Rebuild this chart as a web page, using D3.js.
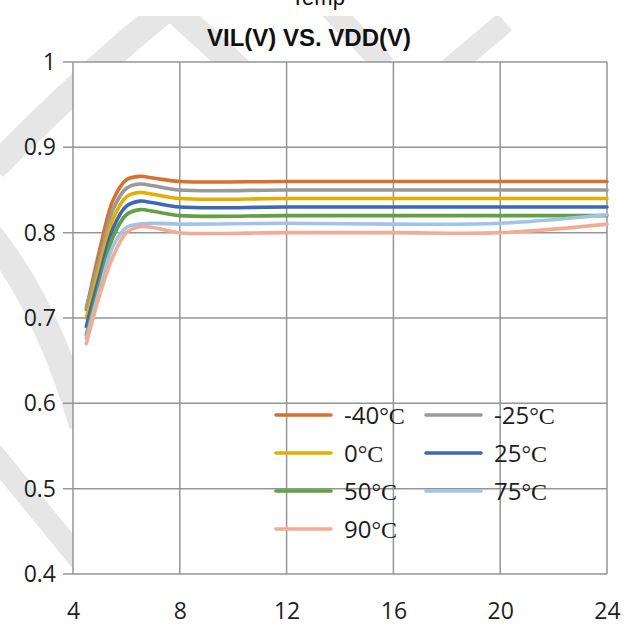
<!DOCTYPE html>
<html>
  <head>
    <meta charset="utf-8">
    <script src="https://d3js.org/d3.v7.min.js"></script>
    <style>
      body { margin: 0; background: white; }
      .tick-label { font-family: "Open Sans", sans-serif; font-size: 23px; fill: #1e1e1e; }
      .title { font-family: "Liberation Sans", Arial, sans-serif; font-weight: bold; font-size: 24px; fill: #111; }
      .legend-text { font-family: "Open Sans", sans-serif; font-size: 24px; fill: #1e1e1e; }
    </style>
  </head>
  <body>
    <div id="chart"></div>
<script>

// VDD (V) sample points
var vdd = [4.5, 5, 5.5, 6, 6.5, 7, 8, 12, 16, 20, 24];

// VIL (V) per temperature
var tempM40 = [0.71, 0.78, 0.838, 0.862, 0.866, 0.864, 0.86, 0.86, 0.86, 0.86, 0.86];
var tempM25 = [0.712, 0.77, 0.827, 0.852, 0.857, 0.855, 0.85, 0.85, 0.85, 0.85, 0.85];
var temp0   = [0.70, 0.76, 0.816, 0.842, 0.847, 0.845, 0.84, 0.84, 0.84, 0.84, 0.84];
var temp25  = [0.69, 0.75, 0.805, 0.831, 0.837, 0.835, 0.83, 0.83, 0.83, 0.83, 0.83];
var temp50  = [0.68, 0.74, 0.795, 0.821, 0.827, 0.825, 0.82, 0.82, 0.82, 0.82, 0.82];
var temp75  = [0.676, 0.733, 0.784, 0.806, 0.81, 0.811, 0.81, 0.811, 0.81, 0.811, 0.821];
var temp90  = [0.67, 0.727, 0.772, 0.80, 0.807, 0.806, 0.80, 0.80, 0.80, 0.80, 0.81];

var seriesNames = ["-40", "-25", "0", "25", "50", "75", "90"];
var seriesValues = [tempM40, tempM25, temp0, temp25, temp50, temp75, temp90];
var colors = ["#d8702f", "#999999", "#e6ad00", "#3c68b8", "#62a043", "#a2c3e8", "#f3ab93"];

var xTicks = [4, 8, 12, 16, 20, 24];
var yTicks = [0.4, 0.5, 0.6, 0.7, 0.8, 0.9, 1];

function drawChart() {
  var width = 634, height = 626;
  var plotLeft = 73, plotRight = 607, plotTop = 62, plotBottom = 574;

  var svg = d3.select("#chart").append("svg")
    .attr("width", width)
    .attr("height", height)
    .style("background", "white");

  // ---------- faint watermark behind the chart ----------
  svg.append("clipPath").attr("id", "wm-clip")
    .append("rect").attr("x", 0).attr("y", 16).attr("width", width).attr("height", height - 16);

  var wm = svg.append("g").attr("clip-path", "url(#wm-clip)")
    .style("fill", "none").style("stroke", "#e6e6e6").style("stroke-linecap", "butt");
  wm.append("path").attr("d", "M168,8 Q90,70 -6,168").style("stroke-width", 26);
  wm.append("path").attr("d", "M172,8 L240,70").style("stroke-width", 26);
  wm.append("path").attr("d", "M330,8 L385,66").style("stroke-width", 22);
  wm.append("path").attr("d", "M505,22 L448,70").style("stroke-width", 22);
  wm.append("path").attr("d", "M-14,230 Q45,300 82,425").style("stroke-width", 26);
  wm.append("path").attr("d", "M-10,450 L80,560").style("stroke-width", 22);

  // ---------- titles ----------
  svg.append("text")
    .attr("class", "title")
    .attr("x", 318).attr("y", 5)
    .attr("text-anchor", "middle")
    .style("font-weight", "normal")
    .style("font-size", "22px")
    .text("Temp");

  svg.append("text")
    .attr("class", "title")
    .attr("x", 309).attr("y", 46)
    .attr("text-anchor", "middle")
    .text("VIL(V) VS. VDD(V)");

  // ---------- scales ----------
  var x = d3.scaleLinear().domain([4, 24]).range([plotLeft, plotRight]);
  var y = d3.scaleLinear().domain([0.4, 1]).range([plotBottom, plotTop]);

  // plot area
  svg.append("rect")
    .attr("x", plotLeft).attr("y", plotTop)
    .attr("width", plotRight - plotLeft).attr("height", plotBottom - plotTop)
    .style("fill", "white");

  // grid
  var grid = svg.append("g").style("stroke", "#949494").style("stroke-width", 1.5);
  grid.selectAll(".hgrid")
    .data(yTicks)
    .enter().append("line")
    .attr("x1", plotLeft - 10).attr("x2", plotRight)
    .attr("y1", function(d) { return y(d); })
    .attr("y2", function(d) { return y(d); });
  grid.selectAll(".vgrid")
    .data(xTicks)
    .enter().append("line")
    .attr("x1", function(d) { return x(d); })
    .attr("x2", function(d) { return x(d); })
    .attr("y1", plotTop).attr("y2", plotBottom);

  // axis labels
  var yAxis = svg.append("g")
    .attr("transform", "translate(" + (plotLeft - 17) + ",0)")
    .call(d3.axisLeft(y).tickValues(yTicks).tickSize(0).tickPadding(0).tickFormat(d3.format(".1~f")));
  yAxis.select(".domain").remove();
  yAxis.attr("font-family", null).attr("font-size", null);
  yAxis.selectAll("text").attr("class", "tick-label");

  var xAxis = svg.append("g")
    .attr("transform", "translate(0," + plotBottom + ")")
    .call(d3.axisBottom(x).tickValues(xTicks).tickSize(0).tickPadding(0));
  xAxis.select(".domain").remove();
  xAxis.attr("font-family", null).attr("font-size", null);
  xAxis.selectAll("text").attr("class", "tick-label").attr("dy", null).attr("y", 45);

  // ---------- lines ----------
  var line = d3.line()
    .x(function(d, i) { return x(vdd[i]); })
    .y(function(d) { return y(d); })
    .curve(d3.curveCatmullRom.alpha(0.5));

  svg.selectAll(".series")
    .data(seriesValues)
    .enter().append("path")
    .attr("class", "series")
    .attr("d", line)
    .style("fill", "none")
    .style("stroke", function(d, i) { return colors[i]; })
    .style("stroke-width", 3.6)
    .style("stroke-linecap", "round");

  // ---------- legend ----------
  var legend = svg.selectAll(".legend")
    .data(seriesNames)
    .enter().append("g")
    .attr("class", "legend")
    .attr("transform", function(d, i) {
      var col = i % 2, row = Math.floor(i / 2);
      return "translate(" + (col ? 426 : 276) + "," + (415 + row * 38) + ")";
    });

  legend.append("line")
    .attr("x1", 0).attr("x2", 55)
    .style("stroke", function(d, i) { return colors[i]; })
    .style("stroke-width", 3.6)
    .style("stroke-linecap", "round");

  var lt = legend.append("text")
    .attr("class", "legend-text")
    .attr("x", 68)
    .attr("y", 8.5);
  lt.append("tspan").text(function(d) { return d; });
  lt.append("tspan")
    .style("font-family", "'Liberation Serif', serif")
    .text("°C");
}

drawChart();

</script>
  </body>
</html>
